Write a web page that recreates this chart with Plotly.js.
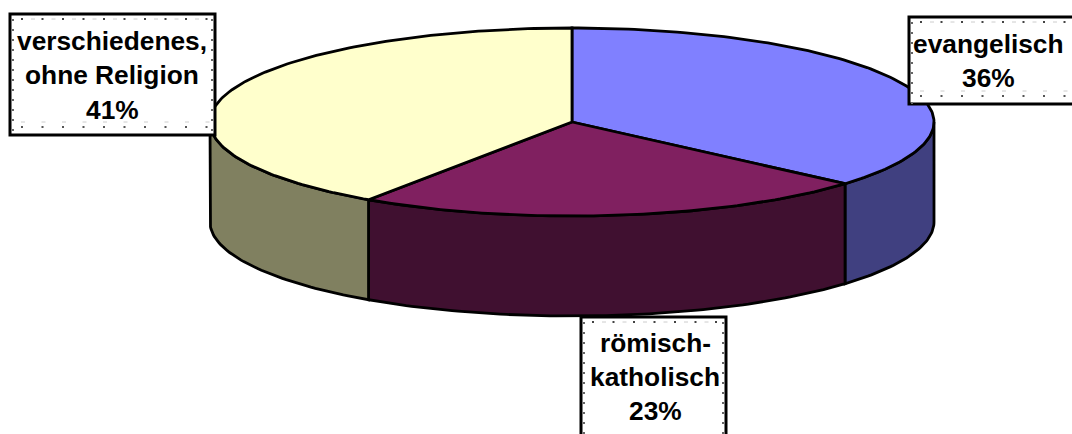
<!DOCTYPE html>
<html><head><meta charset="utf-8">
<script src="https://cdn.plot.ly/plotly-3.0.1.min.js"></script>
<style>html,body{margin:0;padding:0;background:#fff;overflow:hidden}</style></head>
<body><div id="chart" style="width:1072px;height:434px"></div>
<script>
const categories = ["evangelisch", "römisch-katholisch", "verschiedenes, ohne Religion"];
const shares = [36.4, 23.1, 40.5];
const shownPercent = ["36%", "23%", "41%"];
const labelLines = [["evangelisch"], ["römisch-", "katholisch"], ["verschiedenes,", "ohne Religion"]];
const topColors = ["#8080FF", "#802060", "#FFFFCC"];
const sideColors = ["#404080", "#401030", "#808060"];

const cx = 572, cy = 122, rx = 362, ry = 94, depth = 100;
const boxes = [
  {x0: 909, x1: 1085, y0: 17, y1: 104, tx: 988, ty: [44, 78]},
  {x0: 581, x1: 726, y0: 317, y1: 450, tx: 655, ty: [343, 377, 411]},
  {x0: 10, x1: 215, y0: 14, y1: 135, tx: 112, ty: [41, 75, 110]}
];
const total = shares.reduce((a, b) => a + b, 0);
const pt = (deg, dy) => [cx + rx * Math.sin(deg * Math.PI / 180), cy - ry * Math.cos(deg * Math.PI / 180) + (dy || 0)];
function arc(a, b, dy) {
  const out = [], n = Math.max(2, Math.ceil(Math.abs(b - a)));
  for (let i = 0; i <= n; i++) out.push(pt(a + (b - a) * i / n, dy));
  return out;
}
const traces = [];
function poly(points, color) {
  traces.push({type: "scatter", mode: "lines", x: points.map(p => p[0]), y: points.map(p => p[1]),
    fill: "toself", fillcolor: color, line: {color: "#000", width: 2.8}, hoverinfo: "skip", showlegend: false});
}
let start = 0;
const ranges = shares.map(v => { const a = start, b = start + v / total * 360; start = b; return [a, b]; });
// side walls: only the front half (90..270 deg) is visible
ranges.forEach(([a, b], i) => {
  const s = Math.max(a, 90), e = Math.min(b, 270);
  if (e > s) {
    const p = arc(s, e, 0).concat(arc(e, s, depth));
    p.push(p[0]);
    poly(p, sideColors[i]);
  }
});
// top faces
ranges.forEach(([a, b], i) => {
  poly([[cx, cy]].concat(arc(a, b, 0)).concat([[cx, cy]]), topColors[i]);
});
const shapes = [], annotations = [];
const seg = (x0, y0, x1, y1, color, dash, w) => shapes.push({type: "line", xref: "x", yref: "y", x0, y0, x1, y1, line: {color, dash, width: w}});
boxes.forEach((b, i) => {
  shapes.push({type: "rect", xref: "x", yref: "y", x0: b.x0, x1: b.x1, y0: b.y0, y1: b.y1, fillcolor: "#fff", line: {color: "#000", width: 3}});
  const L = b.x0 + 3, R = b.x1 - 3, T = b.y0 + 5, B = b.y1 - 8;
  seg(L + 8, T, R, T, "#444", "2px,18.5px", 2);
  seg(L + 18, T, R, T, "#ccc", "4px,16.5px", 1);
  seg(L + 8, B - 5, R, B - 5, "#ccc", "4px,16.5px", 1);
  seg(L + 8, B, R, B, "#555", "2px,18.5px", 2);
  seg(L, T, L, b.y1, "#666", "2px,8px", 2);
  seg(R, T, R, b.y1, "#666", "2px,8px", 2);
  labelLines[i].concat([shownPercent[i]]).forEach((t, j) => {
    annotations.push({x: b.tx, y: b.ty[j], xref: "x", yref: "y", text: t, showarrow: false, xanchor: "center", yanchor: "middle",
      font: {family: "Liberation Sans, Arial, sans-serif", size: 26.3, color: "#000", weight: 700}});
  });
});
Plotly.newPlot("chart", traces, {
  width: 1072, height: 434, margin: {l: 0, r: 0, t: 0, b: 0},
  paper_bgcolor: "#fff", plot_bgcolor: "#fff", showlegend: false, hovermode: false,
  xaxis: {range: [0, 1072], visible: false, fixedrange: true},
  yaxis: {range: [434, 0], visible: false, fixedrange: true},
  shapes, annotations
}, {staticPlot: true, displayModeBar: false});
</script></body></html>
